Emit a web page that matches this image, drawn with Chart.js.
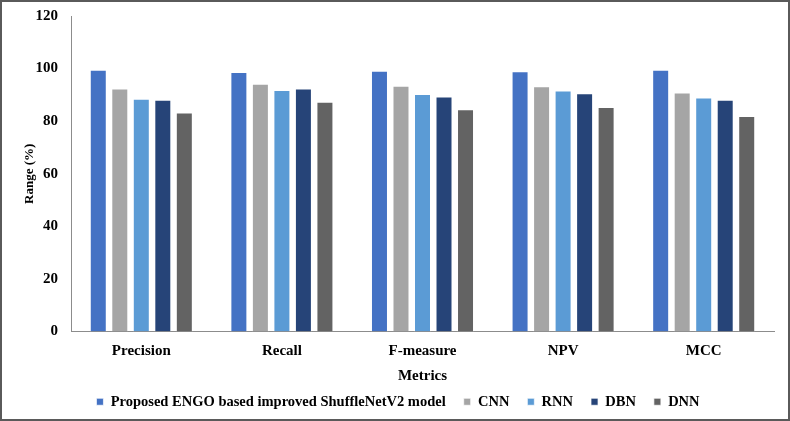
<!DOCTYPE html>
<html>
<head>
<meta charset="utf-8">
<script src="https://cdn.jsdelivr.net/npm/chart.js@4/dist/chart.umd.min.js"></script>
<style>
  html, body { margin: 0; padding: 0; background: #fff; }
  .frame {
    box-sizing: border-box;
    width: 790px;
    height: 421px;
    border: 2px solid #5a5a5a;
    background: #fff;
  }
  .frame canvas { display: block; }
</style>
</head>
<body>
<div class="frame">
  <canvas id="metricsChart" width="786" height="417"></canvas>
</div>
<script>
const categories = ["Precision", "Recall", "F-measure", "NPV", "MCC"];
const seriesNames = ["Proposed ENGO based improved ShuffleNetV2 model", "CNN", "RNN", "DBN", "DNN"];
const proposedValues = [99.6, 98.7, 99.2, 99.0, 99.6];
const cnnValues = [92.4, 94.2, 93.5, 93.3, 90.9];
const rnnValues = [88.5, 91.9, 90.3, 91.7, 89.0];
const dbnValues = [88.1, 92.4, 89.4, 90.6, 88.1];
const dnnValues = [83.3, 87.4, 84.5, 85.4, 82.0];
const yTicks = [0, 20, 40, 60, 80, 100, 120];

const colors = ["#4472C4", "#A5A5A5", "#5B9BD5", "#264478", "#636363"];
const allValues = [proposedValues, cnnValues, rnnValues, dbnValues, dnnValues];
const serif = "'Liberation Serif', 'Times New Roman', serif";

const ctx = document.getElementById("metricsChart");
new Chart(ctx, {
  type: "bar",
  data: {
    labels: categories,
    datasets: seriesNames.map((name, i) => ({
      label: name,
      data: allValues[i],
      backgroundColor: colors[i],
      borderColor: "rgba(255,255,255,0.7)",
      borderWidth: 1,
      categoryPercentage: 0.765,
      barPercentage: 0.79,
    })),
  },
  options: {
    responsive: false,
    animation: false,
    layout: { padding: { top: 5, right: 14, left: 20, bottom: 0 } },
    plugins: {
      legend: {
        position: "bottom",
        labels: {
          boxWidth: 7,
          boxHeight: 7,
          padding: 18,
          color: "#000",
          font: { family: serif, size: 14.5, weight: "bold" },
        },
      },
      tooltip: { enabled: false },
    },
    scales: {
      x: {
        afterFit: (scale) => { scale.height = 45; },
        grid: { display: false },
        border: { display: true, color: "#8c8c8c", width: 1 },
        ticks: {
          color: "#000",
          padding: 3,
          font: { family: serif, size: 15, weight: "bold" },
        },
        title: {
          display: true,
          text: "Metrics",
          color: "#000",
          padding: { top: 0, bottom: -9 },
          font: { family: serif, size: 15, weight: "bold" },
        },
      },
      y: {
        min: 0,
        max: 120,
        afterFit: (scale) => { scale.width = 49; },
        afterBuildTicks: (scale) => {
          scale.ticks = yTicks.map((v) => ({ value: v }));
        },
        grid: { display: false },
        border: { display: true, color: "#8c8c8c", width: 1 },
        ticks: {
          color: "#000",
          padding: 5,
          font: { family: serif, size: 15, weight: "bold" },
        },
        title: {
          display: true,
          text: "Range (%)",
          color: "#000",
          padding: { top: 0, bottom: 0 },
          font: { family: serif, size: 13, weight: "bold" },
        },
      },
    },
  },
});
</script>
</body>
</html>
